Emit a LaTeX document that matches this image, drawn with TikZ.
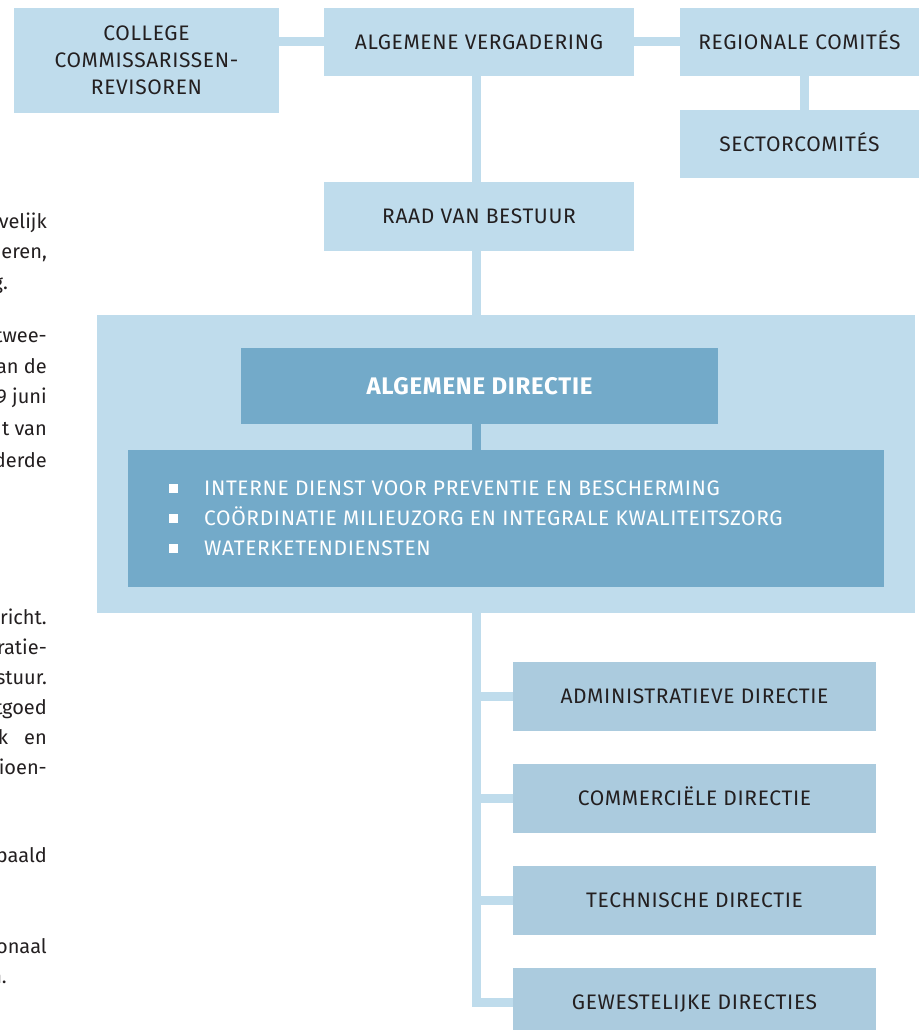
\documentclass[tikz,border=0pt]{standalone}
\usepackage{fontspec}
\setmainfont{Fira Sans}
\newfontfamily\kapfont{Fira Sans}[LetterSpace=3]
\usetikzlibrary{calc}
\definecolor{lichtblauw}{RGB}{191,220,236}
\definecolor{grijsblauw}{RGB}{171,203,222}
\definecolor{donkerblauw}{RGB}{115,170,201}
\definecolor{inkt}{RGB}{35,31,32}
\newcommand{\blokje}{\textcolor{white}{\rule[2.5pt]{9pt}{9pt}}\hspace{26pt}}

\begin{document}
\begin{tikzpicture}[x=1pt,y=-1pt,
    vak/.style={fill=lichtblauw,text=inkt,inner sep=0pt,align=center,
      font=\kapfont\fontsize{21}{27}\selectfont},
    eenregel/.style={text height=14.5pt,text depth=0pt},
    dirvak/.style={vak,eenregel,fill=grijsblauw,minimum width=363pt,minimum height=69pt},
    lijn/.style={lichtblauw,line width=9pt},
    taak/.style={anchor=base west,text=white,inner sep=0pt,font=\kapfont\fontsize{21}{27}\selectfont},
    kolom/.style={anchor=base east,text=inkt,inner sep=0pt,font=\fontsize{20}{24}\selectfont}]
  \useasboundingbox (0,0) rectangle (919,1030);
  \clip (0,0) rectangle (919,1030);
  \coordinate (as) at (476.5,0);

  \node[vak,minimum width=265pt,minimum height=105pt] (college) at (146.5,60.5)
    {COLLEGE\\COMMISSARISSEN-\\REVISOREN};
  \node[vak,eenregel,minimum width=310pt,minimum height=68pt] (av) at (479,42) {ALGEMENE VERGADERING};
  \node[vak,eenregel,minimum width=239pt,minimum height=68pt] (reg) at (799.5,42) {REGIONALE COMITÉS};
  \node[vak,eenregel,minimum width=239pt,minimum height=68pt] (sec) at (799.5,144) {SECTORCOMITÉS};
  \node[vak,eenregel,minimum width=310pt,minimum height=69pt] (raad) at (479,216.5) {RAAD VAN BESTUUR};

  \node[fill=lichtblauw,inner sep=0pt,minimum width=818pt,minimum height=298pt] (groot) at (506,464) {};
  \node[vak,fill=donkerblauw,text=white,text height=16.5pt,text depth=0pt,
    font=\kapfont\bfseries\fontsize{24}{28}\selectfont,
    minimum width=477pt,minimum height=76pt] (ad) at (479.5,386) {ALGEMENE DIRECTIE};
  \node[fill=donkerblauw,inner sep=0pt,minimum width=756pt,minimum height=137pt] (lijst) at (506,518.5) {};
  \foreach \y/\t [count=\i] in {495/INTERNE DIENST VOOR PREVENTIE EN BESCHERMING,
    525/COÖRDINATIE MILIEUZORG EN INTEGRALE KWALITEITSZORG,
    555/WATERKETENDIENSTEN}{
    \node[taak] (taak\i) at (169,\y) {\blokje\t};
  }

  \foreach \naam/\y/\t in {adm/696.5/ADMINISTRATIEVE DIRECTIE, com/798.5/COMMERCIËLE DIRECTIE,
    tec/900.5/TECHNISCHE DIRECTIE, gew/1002.5/GEWESTELIJKE DIRECTIES}{
    \node[dirvak] (\naam) at (694.5,\y) {\t};
  }

  \draw[lijn] (av.west) -- (av.west -| college.east);
  \draw[lijn] (av.east) -- (av.east -| reg.west);
  \draw[lijn] ([xshift=4.5pt]reg.south) -- ([xshift=4.5pt]sec.north);
  \draw[lijn] (av.south -| as) -- (raad.north -| as);
  \draw[lijn] (raad.south -| as) -- (groot.north -| as);
  \draw[donkerblauw,line width=9pt] (ad.south -| as) -- (lijst.north -| as);
  \draw[lijn] (groot.south -| as) |- (gew.west);
  \foreach \naam in {adm,com,tec}{
    \draw[lijn] (as |- \naam.west) -- (\naam.west);
  }

  \foreach \x/\y/\t [count=\i] in {47/228/velijk, 47/258/{deren,}, 8/289/g., 47/342/twee-,
    47/373/an de, 47/403/9 juni, 47/435/t van, 47/467/derde, 47/624/ericht.,
    47/654/eratie-, 47/684/stuur., 47/714/tgoed, 47/744/k\hspace{16pt}en, 47/774/ioen-,
    47/862/paald, 47/953/onaal, 7/983/n.}{
    \node[kolom] (regel\i) at (\x,\y) {\t};
  }
\end{tikzpicture}
\end{document}
